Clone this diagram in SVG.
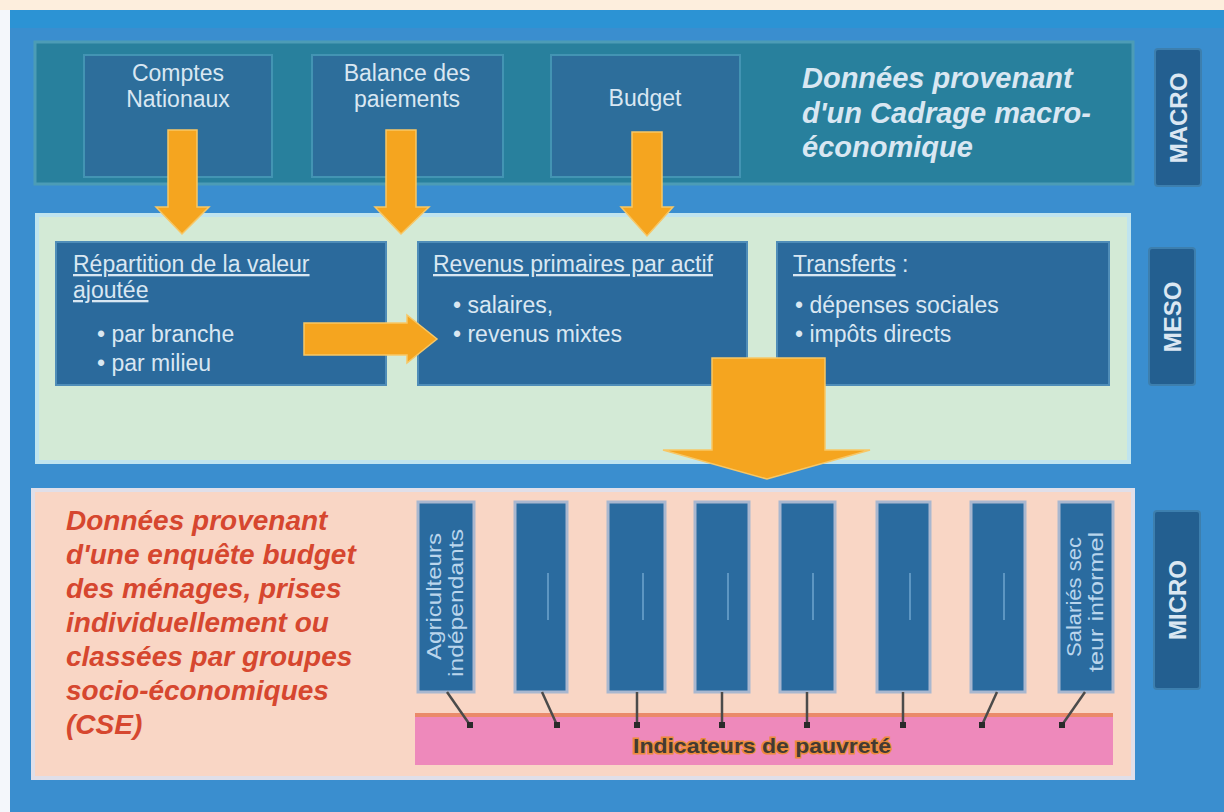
<svg xmlns="http://www.w3.org/2000/svg" width="1224" height="812" viewBox="0 0 1224 812">
<defs>
<style>
.box{fill:#2b6a9c;stroke:#4f8db8;stroke-width:2}
.mbox{fill:#2d6e9b;stroke:#4394b3;stroke-width:2}
.col{fill:#2a6b9f;stroke:#a9b7cf;stroke-width:3}
.t{font-family:"Liberation Sans",Arial,sans-serif;fill:#d9e7f2;font-size:23px}
.tc{text-anchor:middle}
.lab{font-family:"Liberation Sans",Arial,sans-serif;font-weight:bold;font-size:24px;fill:#dbe7f2;text-anchor:middle;dominant-baseline:central}
.labbox{fill:#235f90;stroke:#3d7fae;stroke-width:2}
.arrow{fill:#f5a51f;stroke:#f7c766;stroke-width:1.5}
.vt{font-family:"Liberation Sans",Arial,sans-serif;fill:#b9d5ec;font-size:21px}
.ph{stroke:#5d96c2;stroke-width:2}
.link{stroke:#4b4b4b;stroke-width:2.5}
.dot{fill:#2a2a2a}
</style>
</defs>
<!-- background -->
<rect x="0" y="0" width="1224" height="812" fill="#fdeedd"/>
<rect x="0" y="10" width="10" height="802" fill="#f4f7fb"/>
<rect x="10" y="10" width="1214" height="802" fill="#3a8ecf"/>
<rect x="10" y="10" width="1214" height="18" fill="#2c93d4"/>

<!-- MACRO panel -->
<g id="macro-panel">
<rect x="35" y="42" width="1098" height="142" fill="#28809d" stroke="#4c9cb6" stroke-width="3"/>
<text class="t" x="802" y="88" style="font-weight:bold;font-style:italic;font-size:29px" fill="#cfe4f1">Données provenant</text>
<text class="t" x="802" y="123" style="font-weight:bold;font-style:italic;font-size:29px" fill="#cfe4f1">d'un Cadrage macro-</text>
<text class="t" x="802" y="157" style="font-weight:bold;font-style:italic;font-size:29px" fill="#cfe4f1">économique</text>
</g>
<g id="comptes-nationaux">
<rect class="mbox" x="84" y="55" width="188" height="122"/>
<text class="t tc" x="178" y="81">Comptes</text>
<text class="t tc" x="178" y="107">Nationaux</text>
</g>
<g id="balance-paiements">
<rect class="mbox" x="312" y="55" width="191" height="122"/>
<text class="t tc" x="407" y="81">Balance des</text>
<text class="t tc" x="407" y="107">paiements</text>
</g>
<g id="budget">
<rect class="mbox" x="551" y="55" width="189" height="122"/>
<text class="t tc" x="645" y="106">Budget</text>
</g>
<g id="label-macro">
<rect class="labbox" x="1155" y="49" width="46" height="137" rx="3"/>
<text class="lab" transform="translate(1178,118) rotate(-90)">MACRO</text>
</g>

<!-- MESO panel -->
<g id="meso-panel">
<rect x="37" y="215" width="1092" height="247" fill="#d3ead6" stroke="#bfe4ef" stroke-width="4"/>
</g>
<g id="repartition">
<rect class="box" x="56" y="242" width="330" height="143"/>
<text class="t" x="73" y="272" text-decoration="underline">Répartition de la valeur</text>
<text class="t" x="73" y="298" text-decoration="underline">ajoutée</text>
<text class="t" x="97" y="342">• par branche</text>
<text class="t" x="97" y="371">• par milieu</text>
</g>
<g id="revenus">
<rect class="box" x="418" y="242" width="329" height="143"/>
<text class="t" x="433" y="272" text-decoration="underline">Revenus primaires par actif</text>
<text class="t" x="453" y="313">• salaires,</text>
<text class="t" x="453" y="342">• revenus mixtes</text>
</g>
<g id="transferts">
<rect class="box" x="777" y="242" width="332" height="143"/>
<text class="t" x="793" y="272"><tspan text-decoration="underline">Transferts</tspan> :</text>
<text class="t" x="795" y="313">• dépenses sociales</text>
<text class="t" x="795" y="342">• impôts directs</text>
</g>
<g id="label-meso">
<rect class="labbox" x="1149" y="248" width="46" height="137" rx="3"/>
<text class="lab" transform="translate(1172,317) rotate(-90)">MESO</text>
</g>

<!-- MICRO panel -->
<g id="micro-panel">
<rect x="33" y="490" width="1100" height="288" fill="#f9d6c5" stroke="#e0dfe9" stroke-width="4"/>
<g font-family="Liberation Sans, Arial, sans-serif" font-weight="bold" font-style="italic" font-size="28" fill="#d6472f">
<text x="66" y="530">Données provenant</text>
<text x="66" y="564">d'une enquête budget</text>
<text x="66" y="598">des ménages, prises</text>
<text x="66" y="632">individuellement ou</text>
<text x="66" y="666">classées par groupes</text>
<text x="66" y="700">socio-économiques</text>
<text x="66" y="734">(CSE)</text>
</g>
</g>
<g id="indicateurs">
<rect x="415" y="713" width="698" height="52" fill="#ee89bb"/>
<rect x="415" y="713" width="698" height="4" fill="#ea8a6a"/>
<text x="762" y="753" text-anchor="middle" font-family="Liberation Sans, Arial, sans-serif" font-weight="bold" font-size="21" fill="#433a33" stroke="#ec8c3c" stroke-width="3" paint-order="stroke" textLength="258" lengthAdjust="spacingAndGlyphs">Indicateurs de pauvreté</text>
</g>
<g id="gse-1">
<rect class="col" x="418" y="502" width="56" height="190"/>
<text class="vt" transform="translate(441,660) rotate(-90)" textLength="127" lengthAdjust="spacingAndGlyphs">Agriculteurs</text>
<text class="vt" transform="translate(463,677) rotate(-90)" textLength="148" lengthAdjust="spacingAndGlyphs">indépendants</text>
</g>
<g id="gse-2"><rect class="col" x="515" y="502" width="52" height="190"/><line class="ph" x1="548" y1="573" x2="548" y2="620"/></g>
<g id="gse-3"><rect class="col" x="608" y="502" width="57" height="190"/><line class="ph" x1="643" y1="573" x2="643" y2="620"/></g>
<g id="gse-4"><rect class="col" x="695" y="502" width="54" height="190"/><line class="ph" x1="728" y1="573" x2="728" y2="620"/></g>
<g id="gse-5"><rect class="col" x="780" y="502" width="55" height="190"/><line class="ph" x1="813" y1="573" x2="813" y2="620"/></g>
<g id="gse-6"><rect class="col" x="877" y="502" width="53" height="190"/><line class="ph" x1="910" y1="573" x2="910" y2="620"/></g>
<g id="gse-7"><rect class="col" x="971" y="502" width="54" height="190"/><line class="ph" x1="1004" y1="573" x2="1004" y2="620"/></g>
<g id="gse-8">
<rect class="col" x="1059" y="502" width="54" height="190"/>
<text class="vt" transform="translate(1081,657) rotate(-90)" textLength="120" lengthAdjust="spacingAndGlyphs">Salariés sec</text>
<text class="vt" transform="translate(1103,672) rotate(-90)" textLength="140" lengthAdjust="spacingAndGlyphs">teur informel</text>
</g>
<g id="label-micro">
<rect class="labbox" x="1154" y="511" width="46" height="178" rx="3"/>
<text class="lab" transform="translate(1177,600) rotate(-90)">MICRO</text>
</g>

<!-- connectors -->
<g id="connectors">
<polygon class="arrow" points="168,130 197,130 197,207 209,207 182,234 156,207 168,207"/>
<polygon class="arrow" points="386,130 416,130 416,207 429,207 401,234 375,207 386,207"/>
<polygon class="arrow" points="632,132 662,132 662,207 673,207 647,236 621,207 632,207"/>
<polygon class="arrow" points="304,323 407,323 407,315 437,339 407,363 407,355 304,355"/>
<polygon class="arrow" points="712,358 825,358 825,450 870,450 767,479 663,450 712,450"/>
<line class="link" x1="447" y1="692" x2="470" y2="725"/>
<line class="link" x1="542" y1="692" x2="557" y2="725"/>
<line class="link" x1="637" y1="692" x2="637" y2="725"/>
<line class="link" x1="722" y1="692" x2="722" y2="725"/>
<line class="link" x1="807" y1="692" x2="807" y2="725"/>
<line class="link" x1="903" y1="692" x2="903" y2="725"/>
<line class="link" x1="997" y1="692" x2="982" y2="725"/>
<line class="link" x1="1085" y1="692" x2="1062" y2="725"/>
<rect class="dot" x="467" y="722" width="6" height="6"/>
<rect class="dot" x="554" y="722" width="6" height="6"/>
<rect class="dot" x="634" y="722" width="6" height="6"/>
<rect class="dot" x="719" y="722" width="6" height="6"/>
<rect class="dot" x="804" y="722" width="6" height="6"/>
<rect class="dot" x="900" y="722" width="6" height="6"/>
<rect class="dot" x="979" y="722" width="6" height="6"/>
<rect class="dot" x="1059" y="722" width="6" height="6"/>
</g>
</svg>
